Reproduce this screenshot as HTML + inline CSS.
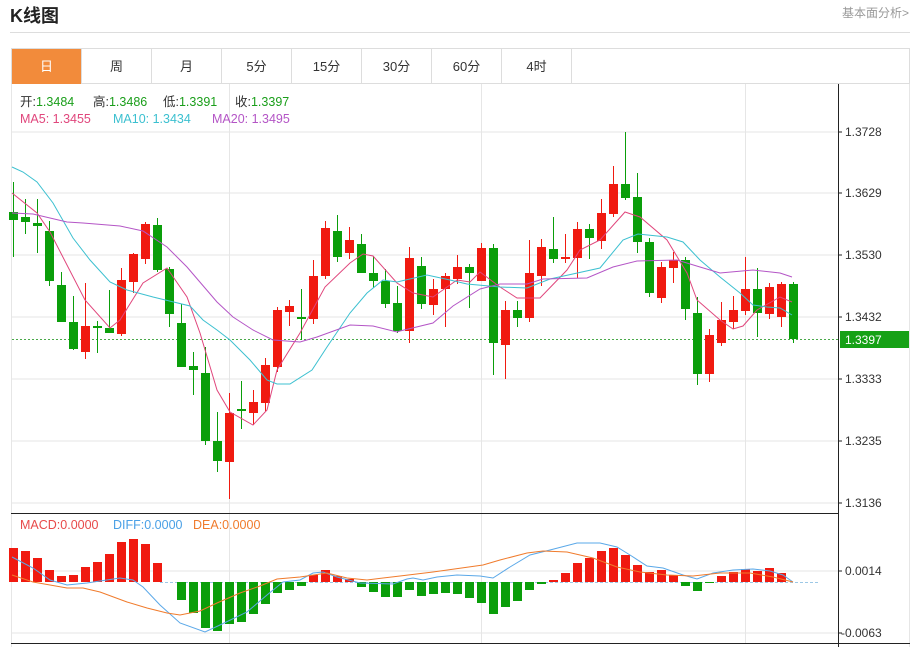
<!DOCTYPE html>
<html><head><meta charset="utf-8"><style>
body{margin:0;background:#fff;width:915px;height:647px;overflow:hidden;font-family:"Liberation Sans","Noto Sans CJK SC",sans-serif;position:relative}
.t{position:absolute;left:10px;top:2px;font-size:18px;font-weight:bold;color:#222}
.r{position:absolute;right:6px;top:4px;font-size:12px;color:#999}
.hl{position:absolute;left:10px;top:32px;width:900px;height:1px;background:#ddd}
.tabs{position:absolute;left:11px;top:48px;height:36px;width:899px;border:1px solid #ddd;box-sizing:border-box}
.tab{position:absolute;top:0;height:35px;width:70px;border-right:1px solid #ddd;box-sizing:border-box;text-align:center;line-height:35px;font-size:13px;color:#333}
svg{position:absolute;left:0;top:0}
</style></head><body>
<div class="t">K线图</div><div class="r">基本面分析&gt;</div><div class="hl"></div>
<div class="tabs">
<div class="tab" style="left:0;background:#f28b3b;color:#fff">日</div>
<div class="tab" style="left:70px">周</div><div class="tab" style="left:140px">月</div>
<div class="tab" style="left:210px">5分</div><div class="tab" style="left:280px">15分</div>
<div class="tab" style="left:350px">30分</div><div class="tab" style="left:420px">60分</div>
<div class="tab" style="left:490px">4时</div></div>
<svg id="s" width="915" height="647" font-family="Liberation Sans, Noto Sans CJK SC, sans-serif">
<g stroke="#e6e6e6" stroke-width="1">
<line x1="11" y1="132" x2="838" y2="132"/><line x1="11" y1="193" x2="838" y2="193"/><line x1="11" y1="255" x2="838" y2="255"/><line x1="11" y1="317" x2="838" y2="317"/><line x1="11" y1="379" x2="838" y2="379"/><line x1="11" y1="441" x2="838" y2="441"/><line x1="11" y1="503" x2="838" y2="503"/>
<line x1="11" y1="571" x2="838" y2="571"/><line x1="11" y1="633" x2="838" y2="633"/>
<line x1="229.5" y1="84" x2="229.5" y2="643"/><line x1="481.5" y1="84" x2="481.5" y2="643"/><line x1="745.5" y1="84" x2="745.5" y2="643"/>
<line x1="11.5" y1="84" x2="11.5" y2="647"/><line x1="909.5" y1="84" x2="909.5" y2="647"/>
</g>
<line x1="11" y1="513.5" x2="838" y2="513.5" stroke="#222"/>
<line x1="11" y1="643.5" x2="910" y2="643.5" stroke="#222"/>
<line x1="838.5" y1="84" x2="838.5" y2="647" stroke="#222"/>
<g font-size="12" fill="#333">
<text x="845" y="136">1.3728</text><text x="845" y="197">1.3629</text><text x="845" y="259">1.3530</text><text x="845" y="321">1.3432</text><text x="845" y="383">1.3333</text><text x="845" y="445">1.3235</text><text x="845" y="507">1.3136</text>
<text x="845" y="575">0.0014</text><text x="841" y="637">-0.0063</text></g>
<g stroke="#222"><line x1="838" y1="132" x2="842" y2="132"/><line x1="838" y1="193" x2="842" y2="193"/><line x1="838" y1="255" x2="842" y2="255"/><line x1="838" y1="317" x2="842" y2="317"/><line x1="838" y1="379" x2="842" y2="379"/><line x1="838" y1="441" x2="842" y2="441"/><line x1="838" y1="503" x2="842" y2="503"/><line x1="838" y1="571" x2="842" y2="571"/><line x1="838" y1="633" x2="842" y2="633"/></g>
<line x1="12" y1="339.5" x2="838" y2="339.5" stroke="#4aaa4a" stroke-dasharray="2,2"/>
<rect x="840" y="331" width="69" height="17" fill="#16a116"/><text x="845" y="344" font-size="12" fill="#fff">1.3397</text>
<line x1="160" y1="582.5" x2="820" y2="582.5" stroke="#9cc8e6" stroke-dasharray="3,2"/>
<g font-size="12.5">
<text x="20" y="106" fill="#333">开:<tspan fill="#1a9e1a">1.3484</tspan></text>
<text x="93" y="106" fill="#333">高:<tspan fill="#1a9e1a">1.3486</tspan></text>
<text x="163" y="106" fill="#333">低:<tspan fill="#1a9e1a">1.3391</tspan></text>
<text x="235" y="106" fill="#333">收:<tspan fill="#1a9e1a">1.3397</tspan></text>
<text x="20" y="123" fill="#e0467c">MA5: 1.3455</text><text x="113" y="123" fill="#3cc0d0">MA10: 1.3434</text><text x="212" y="123" fill="#b455c6">MA20: 1.3495</text>
<text x="20" y="529" fill="#e84a4a">MACD:0.0000</text><text x="113" y="529" fill="#4aa0e6">DIFF:0.0000</text><text x="193" y="529" fill="#f07b2c">DEA:0.0000</text>
</g>
<g id="c"></g><g id="m"></g>
<polyline fill="none" stroke="#e0467c" stroke-width="1" points="12,193 37,213 50,232 85,300 110,328 120,320 143,283 167,268 187,297 200,333 217,390 230,412 253,425 267,410 277,370 300,333 325,287 350,263 363,254 373,256 397,283 413,293 433,297 457,280 470,282 480,272 500,287 517,298 540,298 567,270 580,250 600,240 625,212 640,217 667,240 687,273 697,300 720,320 733,329 743,326 757,310 780,297 792,302"/>
<polyline fill="none" stroke="#3cc0d0" stroke-width="1" points="12,167 23,172 37,182 53,203 73,238 90,260 110,282 127,290 153,297 190,306 203,320 217,330 230,340 250,360 267,380 277,384 290,384 312,370 327,347 350,313 367,293 383,280 397,282 427,275 450,280 467,284 500,287 527,288 550,279 600,268 623,240 638,234 667,237 683,242 700,260 720,277 740,293 753,305 767,307 780,308 792,315"/>
<polyline fill="none" stroke="#b455c6" stroke-width="1" points="12,213 33,214 67,222 83,223 120,226 143,231 167,247 187,267 217,302 233,317 253,330 273,340 300,342 317,337 350,325 373,326 397,332 400,331 433,323 453,306 480,289 500,284 527,284 543,279 587,278 613,267 637,261 677,260 700,267 720,273 753,270 780,273 792,277"/>
<polyline fill="none" stroke="#5aa8e8" stroke-width="1" points="12,557 33,568 50,580 67,585 87,583 100,581 120,578 133,580 143,587 160,605 180,623 205,632 220,625 247,612 267,595 283,582 300,580 313,573 323,572 337,577 360,583 393,584 407,579 413,578 423,580 437,577 457,575 480,576 493,578 510,567 530,555 550,550 577,543 600,543 617,547 630,555 647,566 663,568 683,575 697,579 713,573 733,570 753,569 770,571 783,575 793,582"/>
<polyline fill="none" stroke="#f07b2c" stroke-width="1" points="12,575 33,582 67,588 83,588 100,592 127,602 147,608 167,613 180,615 200,611 217,603 240,593 260,586 277,579 300,577 327,573 347,578 367,580 400,576 433,572 483,565 500,560 527,553 543,551 567,552 593,558 617,567 640,572 667,575 693,576 720,573 750,573 773,577 793,582"/>
</svg>
<script>
var K=[[212,220,182,257,0],[217,222,199,234,0],[223,226,199,253,0],[231,281,221,286,0],[285,322,272,322,0],[322,349,296,350,0],[326,352,283,359,1],[326,328,321,353,0],[328,333,290,333,0],[280,334,268,336,1],[254,282,253,293,1],[224,259,222,264,1],[225,270,218,272,0],[269,314,267,327,0],[323,367,304,367,0],[366,370,352,395,0],[373,441,347,445,0],[441,461,412,472,0],[413,462,393,499,1],[409,411,381,429,0],[402,413,390,425,1],[365,403,358,411,1],[310,367,307,372,1],[306,312,300,326,1],[317,319,289,340,0],[276,319,260,324,1],[228,276,221,279,1],[231,257,215,262,0],[240,253,227,259,1],[244,273,234,273,0],[273,281,256,288,0],[281,304,269,308,0],[303,331,286,333,0],[258,331,247,343,1],[266,304,257,309,0],[289,305,279,315,1],[276,289,273,327,1],[267,279,255,284,1],[267,273,264,308,0],[248,281,243,281,1],[248,343,244,375,0],[310,345,301,379,1],[310,318,301,327,0],[273,318,240,322,1],[247,276,239,286,1],[249,259,217,263,0],[257,259,234,263,1],[229,258,222,278,1],[229,238,224,259,0],[213,241,199,249,1],[184,214,166,217,1],[184,198,132,200,0],[197,242,173,253,0],[242,293,238,297,0],[267,298,262,303,1],[260,268,252,283,1],[260,309,257,320,0],[313,374,297,385,0],[335,374,329,382,1],[320,343,302,346,1],[310,322,296,329,1],[289,311,257,315,1],[289,313,268,337,0],[287,314,283,319,1],[284,317,282,327,1],[284,339,282,343,0]];
var M=[548,551,558,570,576,575,567,562,554,542,539,544,563,582,600,613,628,631,624,622,614,604,593,590,586,575,570,576,579,587,592,597,597,590,596,594,593,594,598,603,614,607,601,590,584,580,573,563,558,551,548,555,565,572,570,575,586,591,583,576,572,569,571,568,573,582];
var ns="http://www.w3.org/2000/svg",c=document.getElementById('c'),m=document.getElementById('m');
function el(p,t,a){var e=document.createElementNS(ns,t);for(var k in a)e.setAttribute(k,a[k]);p.appendChild(e);}
K.forEach(function(d,i){var x=13+12*i,col=d[4]?'#f01a10':'#0a9e0a';
el(c,'line',{x1:x+.5,x2:x+.5,y1:d[2],y2:d[3],stroke:col});
el(c,'rect',{x:x-4,y:d[0],width:9,height:Math.max(1.5,d[1]-d[0]),fill:col});
var v=M[i],z=582;if(Math.abs(v-z)>=1){el(m,'rect',{x:x-4,y:Math.min(v,z),width:9,height:Math.abs(v-z),fill:v<z?'#f01a10':'#0a9e0a'});}});
</script>
</body></html>
